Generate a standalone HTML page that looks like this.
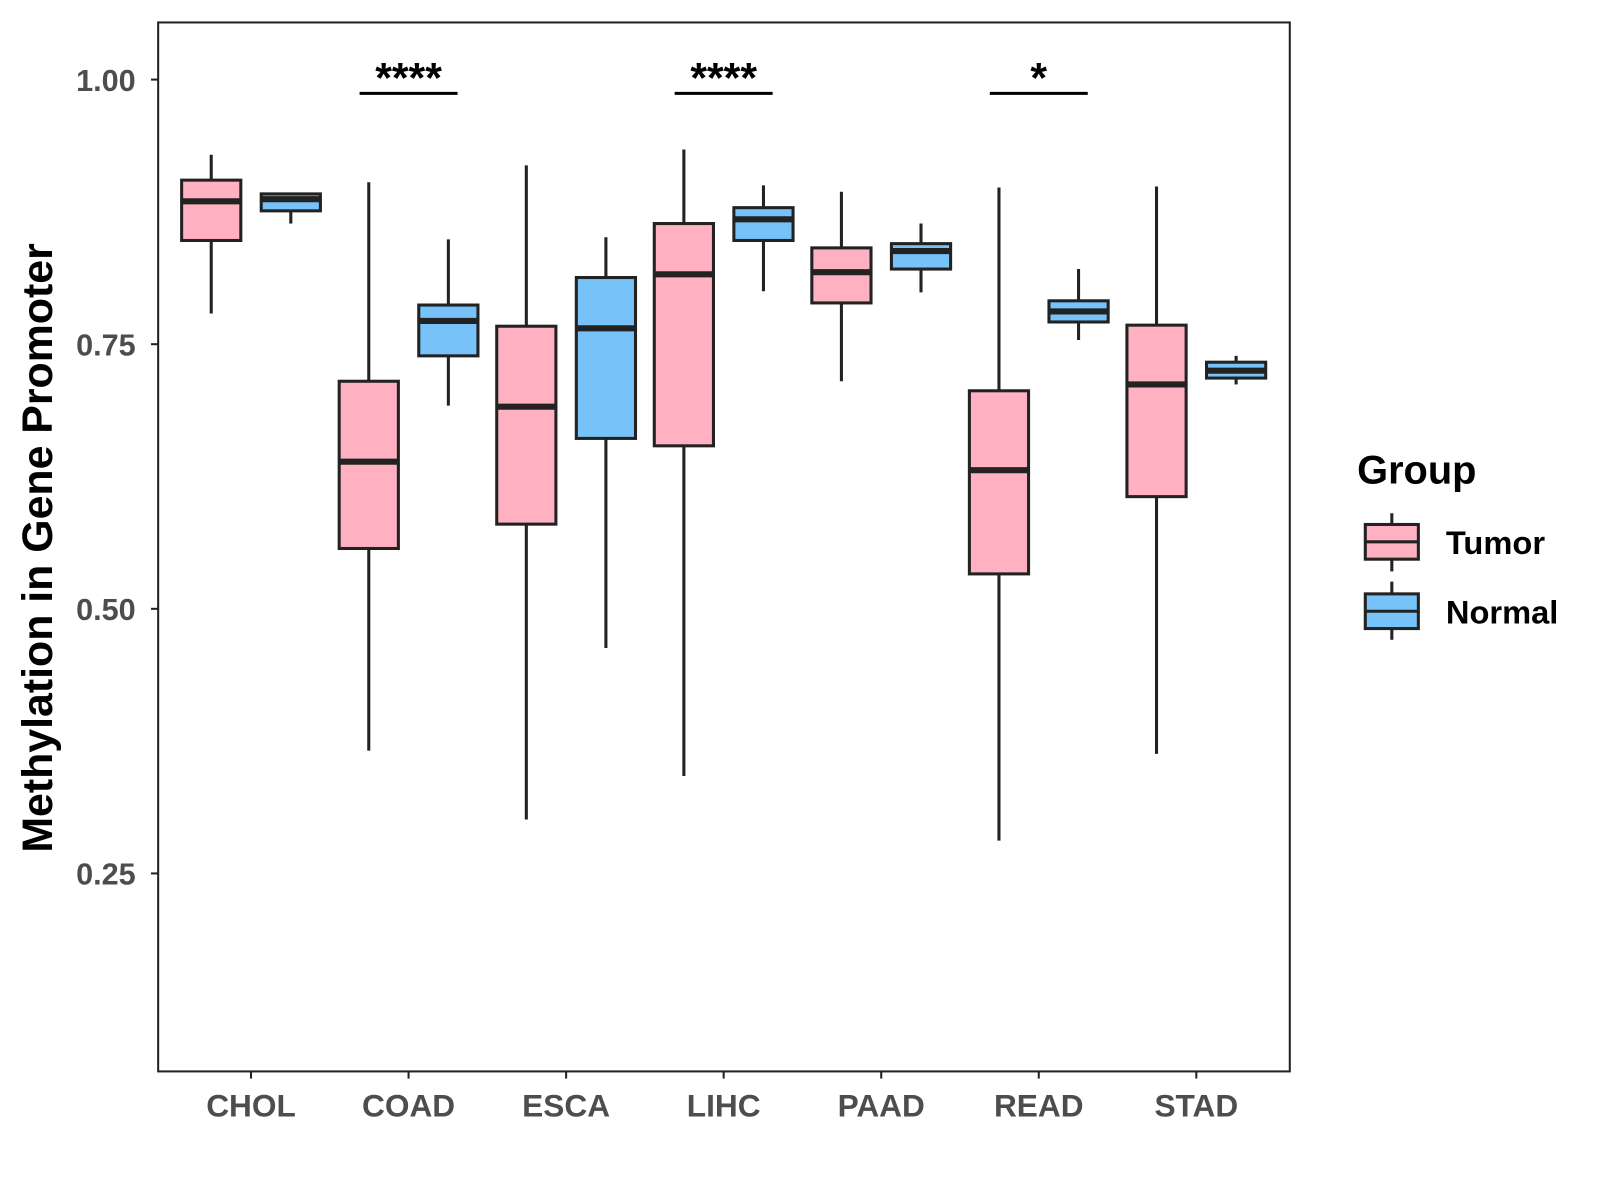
<!DOCTYPE html>
<html><head><meta charset="utf-8"><style>
body{margin:0;background:#fff;}
svg{display:block;font-family:"Liberation Sans",Arial,sans-serif;}
</style></head><body>
<svg id="chart" width="1600" height="1200" xmlns="http://www.w3.org/2000/svg">
<g transform="scale(1.0204)">
<rect x="155" y="22" width="1109" height="1028" fill="#fff" stroke="#222" stroke-width="2"/>
<g id="marks"></g>
<text transform="translate(51,537) rotate(-90)" text-anchor="middle" font-size="42" font-weight="bold" fill="#000">Methylation in Gene Promoter</text>
<g>
<text x="1330" y="474" font-size="39" font-weight="bold" fill="#000">Group</text>
<line x1="1364" y1="503" x2="1364" y2="560" stroke="#222" stroke-width="3"/>
<rect x="1338" y="514" width="52" height="34" fill="#FFB1C2" stroke="#222" stroke-width="3"/>
<line x1="1338" y1="531" x2="1390" y2="531" stroke="#222" stroke-width="3"/>
<text x="1417" y="543" font-size="32" font-weight="bold" fill="#000">Tumor</text>
<line x1="1364" y1="570" x2="1364" y2="627" stroke="#222" stroke-width="3"/>
<rect x="1338" y="582" width="52" height="34" fill="#77C2F8" stroke="#222" stroke-width="3"/>
<line x1="1338" y1="599" x2="1390" y2="599" stroke="#222" stroke-width="3"/>
<text x="1417" y="611" font-size="32" font-weight="bold" fill="#000">Normal</text>
</g>
</g>
</svg>
<script>
const categories=["CHOL","COAD","ESCA","LIHC","PAAD","READ","STAD"];
// [low, Q1, median, Q3, high]
const tumorStats=[[0.779,0.848,0.885,0.905,0.929],[0.366,0.557,0.639,0.715,0.903],[0.301,0.580,0.691,0.767,0.919],[0.342,0.654,0.816,0.864,0.934],[0.715,0.789,0.818,0.841,0.894],[0.281,0.533,0.631,0.706,0.898],[0.363,0.606,0.712,0.768,0.899]];
const normalStats=[[0.864,0.876,0.887,0.892,0.893],[0.692,0.739,0.772,0.787,0.849],[0.463,0.661,0.765,0.813,0.851],[0.800,0.848,0.868,0.879,0.900],[0.799,0.821,0.838,0.845,0.864],[0.754,0.771,0.781,0.791,0.821],[0.712,0.718,0.725,0.733,0.739]];
const yTicks=[0.25,0.50,0.75,1.00];
const yTickLabels=["0.25","0.50","0.75","1.00"];
const signifCats=["COAD","LIHC","READ"];
const signifLabels=["****","****","*"];
const signifY=[0.987,0.987,0.987];

const NS="http://www.w3.org/2000/svg";
const g=document.getElementById('marks');
const y=v=>78+(1-v)*1037.3;
const x=i=>246+i*154.4;
function el(t,a,p){const e=document.createElementNS(NS,t);for(const k in a)e.setAttribute(k,a[k]);(p||g).appendChild(e);return e;}

yTicks.forEach((v,i)=>{
  const t=el('line',{x1:148,x2:155,y1:y(v),y2:y(v),stroke:'#222','stroke-width':2});
  
  
  const l=el('text',{x:133,y:y(v)+11,'text-anchor':'end','font-size':30,'font-weight':'bold',fill:'#4d4d4d'});
  l.textContent=yTickLabels[i];
  
  
});
categories.forEach((c,i)=>{
  const t=el('line',{x1:x(i),x2:x(i),y1:1050,y2:1057,stroke:'#222','stroke-width':2});
  
  
  const l=el('text',{x:x(i),y:1094,'text-anchor':'middle','font-size':31,'font-weight':'bold',fill:'#4d4d4d'});
  l.textContent=c;
  
  
});
function box(s,cx,fill,name){
  const grp=el('g',{});
  
  
  el('line',{x1:cx,x2:cx,y1:y(s[4]),y2:y(s[0]),stroke:'#222','stroke-width':3},grp);
  el('rect',{x:cx-29,y:y(s[3]),width:58,height:y(s[1])-y(s[3]),fill:fill,stroke:'#222','stroke-width':3},grp);
  el('line',{x1:cx-29,x2:cx+29,y1:y(s[2]),y2:y(s[2]),stroke:'#222','stroke-width':6},grp);
}
categories.forEach((c,i)=>{
  box(tumorStats[i],x(i)-39,'#FFB1C2','box-tumor-'+c.toLowerCase());
  box(normalStats[i],x(i)+39,'#77C2F8','box-normal-'+c.toLowerCase());
});
signifCats.forEach((c,k)=>{
  const i=categories.indexOf(c);
  const ln=el('line',{x1:x(i)-48,x2:x(i)+48,y1:y(signifY[k]),y2:y(signifY[k]),stroke:'#000','stroke-width':3});
  
  
  const t=el('text',{x:x(i),y:y(signifY[k])-1,'text-anchor':'middle','font-size':42,'font-weight':'bold',fill:'#000'});
  t.textContent=signifLabels[k];
  
  
});
</script>
</body></html>
